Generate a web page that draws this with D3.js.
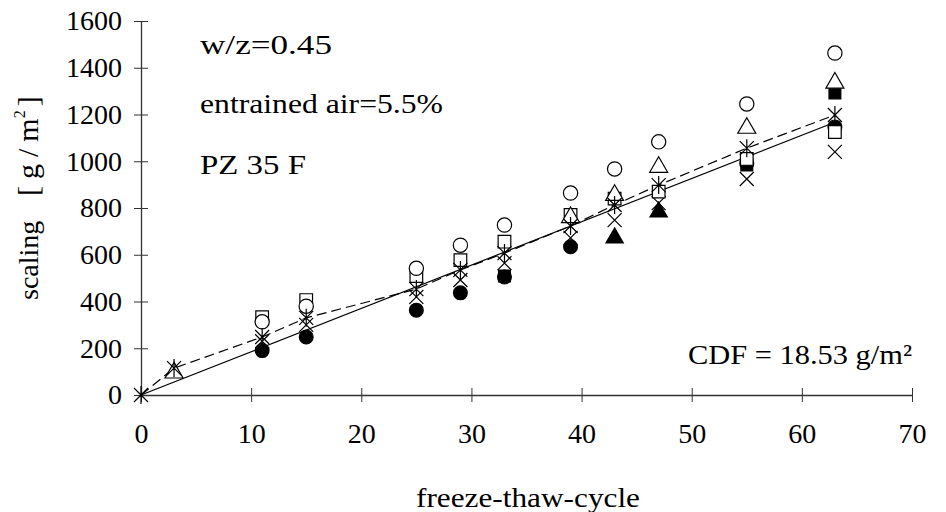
<!DOCTYPE html>
<html><head><meta charset="utf-8">
<script src="https://cdn.jsdelivr.net/npm/d3@7"></script>
<style>
html,body{margin:0;padding:0;background:#fff;}
svg{display:block;}
text{font-family:"Liberation Serif","Times New Roman",serif;fill:#000;}
</style></head>
<body>
<svg id="c" width="946" height="512"></svg>
<script>
// ---- data ----
const cycles = [0, 3, 11, 15, 25, 29, 33, 39, 43, 47, 55, 63];
const openCircle    = [null, null, 313, 380, 542, 641, 727, 864, 967, 1083, 1245, 1463];
const openSquare    = [null, null, 333, 406, 509, 577, 656, 770, 840, 870, 1010, 1125];
const openTriangle  = [null, 95, null, null, null, null, null, 760, 855, 975, 1142, 1335];
const filledCircle  = [null, null, 190, 248, 363, 437, 505, 634, null, null, 990, 1147];
const filledSquare  = [null, null, null, null, null, null, 509, null, null, null, 984, 1292];
const filledTriangle= [null, null, null, null, null, null, null, null, 672, 783, null, null];
const crossMark     = [null, null, 230, 300, 420, 492, 564, 672, 748, 821, 924, 1040];
const meanStar      = [0, 115, 248, 330, 453, 535, 607, 723, 813, 898, 1056, 1198];
const fitCycles = [0, 63];
const fitValues = [0, 1167];
const xTicks = [0, 10, 20, 30, 40, 50, 60, 70];
const yTicks = [0, 200, 400, 600, 800, 1000, 1200, 1400, 1600];
const notes = ["w/z=0.45", "entrained air=5.5%", "PZ 35 F"];
const cdfLabel = "CDF = 18.53 g/m²";

const svg = d3.select("#c");
const x = d3.scaleLinear().domain([0, 70]).range([141, 912]);
const y = d3.scaleLinear().domain([0, 1600]).range([395, 21]);
const axisColor = "#333";
const FS = 28;

// axes
const gx = svg.append("g").attr("transform", `translate(0,${y(0)})`)
  .call(d3.axisBottom(x).tickValues(xTicks).tickFormat(d3.format("d"))
    .tickSizeInner(7).tickSizeOuter(0).tickPadding(21));
gx.selectAll(".tick line").attr("y1", -7).attr("y2", 7).attr("stroke", axisColor);
gx.select(".domain").attr("stroke", axisColor).attr("stroke-width", 1.3);
gx.selectAll(".tick text").attr("font-size", FS).attr("font-family", "Liberation Serif").attr("fill", "#000");

const gy = svg.append("g").attr("transform", `translate(${x(0)},0)`)
  .call(d3.axisLeft(y).tickValues(yTicks).tickFormat(d3.format("d"))
    .tickSizeInner(7).tickSizeOuter(0).tickPadding(12));
gy.selectAll(".tick line").attr("x1", -7).attr("x2", 7).attr("stroke", axisColor);
gy.select(".domain").attr("stroke", axisColor).attr("stroke-width", 1.3);
gy.selectAll(".tick text").attr("font-size", FS).attr("font-family", "Liberation Serif").attr("fill", "#000");

// lines
const pts = (xs, ys) => xs.map((c, i) => [c, ys[i]]).filter(d => d[1] != null);
const line = d3.line().x(d => x(d[0])).y(d => y(d[1]));
svg.append("path").attr("d", line(pts(fitCycles, fitValues)))
  .attr("fill", "none").attr("stroke", "#000").attr("stroke-width", 1.2);
svg.append("path").attr("d", line(pts(cycles, meanStar)))
  .attr("fill", "none").attr("stroke", "#000").attr("stroke-width", 1.2)
  .attr("stroke-dasharray", "10,5");

// markers
const r = 7;
const crossPath = `M${-r},${-r}L${r},${r}M${-r},${r}L${r},${-r}`;
const starPath = crossPath + `M0,${-r - 2}L0,${r + 2}`;
const series = [
  {vals: crossMark, path: crossPath, fill: "none"},
  {vals: filledCircle, path: d3.symbol(d3.symbolCircle, 150)(), fill: "#000"},
  {vals: filledSquare, path: d3.symbol(d3.symbolSquare, 140)(), fill: "#000"},
  {vals: filledTriangle, path: d3.symbol(d3.symbolTriangle, 130)(), fill: "#000"},
  {vals: openSquare, path: d3.symbol(d3.symbolSquare, 160)(), fill: "#fff"},
  {vals: openTriangle, path: d3.symbol(d3.symbolTriangle, 140)(), fill: "#fff"},
  {vals: openCircle, path: d3.symbol(d3.symbolCircle, 160)(), fill: "#fff"},
  {vals: meanStar, path: starPath, fill: "none"}
];
series.forEach(s => {
  svg.append("g").selectAll("path").data(pts(cycles, s.vals)).join("path")
    .attr("transform", d => `translate(${x(d[0])},${y(d[1])})`)
    .attr("d", s.path).attr("fill", s.fill)
    .attr("stroke", "#000").attr("stroke-width", 1.2);
});

// texts
const addText = (t, px, py, len) => svg.append("text").attr("x", px).attr("y", py)
  .attr("font-size", FS).attr("fill", "#000")
  .attr("textLength", len).attr("lengthAdjust", "spacingAndGlyphs").text(t);
addText(notes[0], 200, 54, 132);
addText(notes[1], 200, 113, 243);
addText(notes[2], 200, 174, 106);
addText(cdfLabel, 688, 364, 224);
addText("freeze-thaw-cycle", 416, 507, 224);

const yl = svg.append("text").attr("transform", "translate(38,300) rotate(-90)")
  .attr("font-size", FS).attr("fill", "#000");
yl.append("tspan").attr("fill", "#000").text("scaling");
yl.append("tspan").attr("fill", "#000").attr("x", 104).attr("font-size", 30)
  .attr("letter-spacing", 7).text("[g/");
yl.append("tspan").attr("fill", "#000").attr("font-size", 30).text("m");
yl.append("tspan").attr("fill", "#000").attr("font-size", 16).attr("dy", -13).text("2");
yl.append("tspan").attr("fill", "#000").attr("font-size", 30).attr("dy", 13).attr("dx", 4).text("]");
</script>
</body></html>
